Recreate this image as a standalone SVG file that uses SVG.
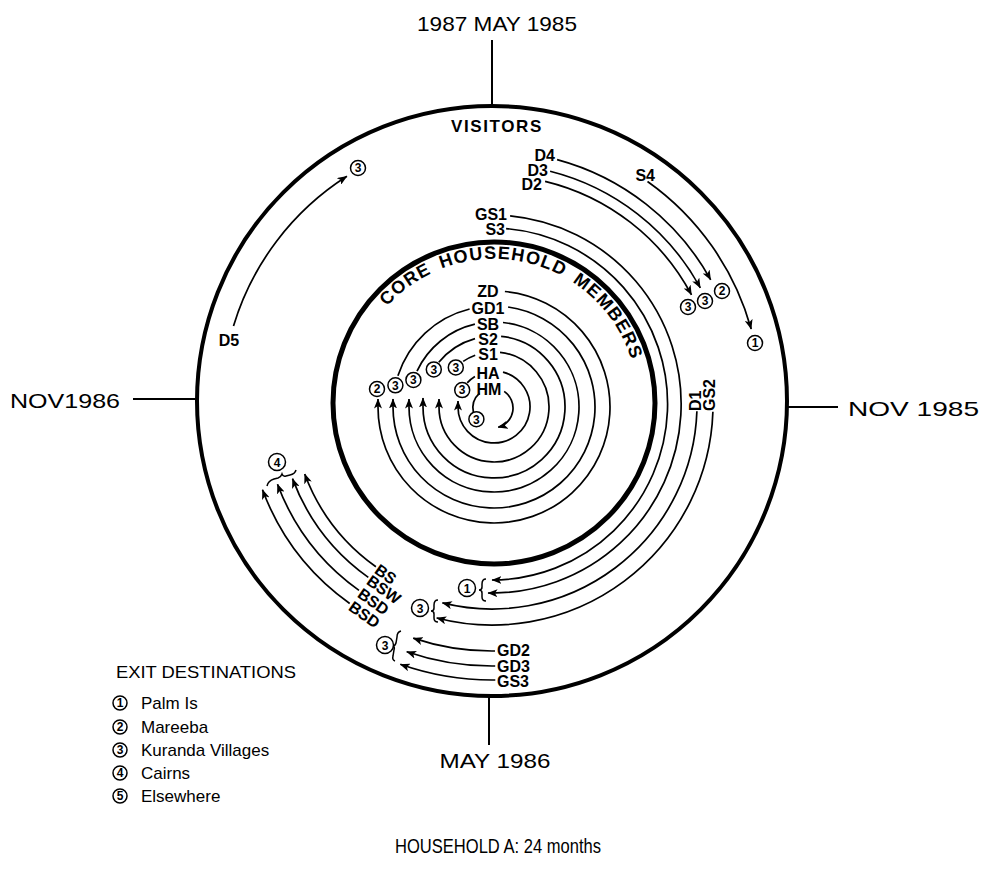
<svg xmlns="http://www.w3.org/2000/svg" width="984" height="890" viewBox="0 0 984 890">
<style>
text{font-family:"Liberation Sans",Arial,Helvetica,sans-serif;fill:#000}
.lb{font-weight:bold;font-size:16px}
.big{font-size:21px}
.leg{font-size:17px}
.cd circle{fill:#fff;stroke:#000;stroke-width:1.5}
.cd text{font-size:12px;text-anchor:middle;font-weight:bold}
.arc{fill:none;stroke:#000;stroke-width:1.7}
.ar{marker-end:url(#ah)}
.rim{fill:none;stroke:#000}
.br{fill:none;stroke:#000;stroke-width:1.5}
</style>
<defs>
<marker id="ah" viewBox="0 0 10 8" refX="9.5" refY="4" markerWidth="10" markerHeight="8" markerUnits="userSpaceOnUse" orient="auto"><path d="M0,0 L10,4 L0,8 L2.5,4 z" fill="#000"/></marker>
</defs>
<rect width="984" height="890" fill="#fff"/>

<g id="frame">
<circle class="rim" cx="492" cy="401" r="295" stroke-width="4"/>
<circle class="rim" cx="494" cy="403" r="161" stroke-width="5"/>
<path class="rim" stroke-width="2" d="M492 40 L492 105 M133 399 L197 399 M787 407 L838 407 M489 695 L489 745"/>
</g>

<g id="time-labels">
<text class="big" x="497" y="31" text-anchor="middle" textLength="160" lengthAdjust="spacingAndGlyphs">1987 MAY 1985</text>
<text class="big" x="10" y="408" textLength="110" lengthAdjust="spacingAndGlyphs">NOV1986</text>
<text class="big" x="848" y="416" textLength="131" lengthAdjust="spacingAndGlyphs">NOV 1985</text>
<text class="big" x="495" y="768" text-anchor="middle" textLength="111" lengthAdjust="spacingAndGlyphs">MAY 1986</text>
<text x="498" y="853" font-size="20" text-anchor="middle" textLength="206" lengthAdjust="spacingAndGlyphs">HOUSEHOLD A: 24 months</text>
</g>

<g id="ring-titles">
<text x="497" y="132" text-anchor="middle" font-weight="bold" font-size="17" letter-spacing="1.6">VISITORS</text>
<path id="corePath" d="M387 306.6 A144 144 0 0 1 637.5 390.4" fill="none"/>
<text font-weight="bold" font-size="18" letter-spacing="1.2" word-spacing="4"><textPath href="#corePath">CORE HOUSEHOLD MEMBERS</textPath></text>
</g>

<g id="connectors">
<path class="arc ar" d="M504.9 291.5 A116 116 0 1 1 378 407 L378 399"/>
<path class="arc ar" d="M508.1 307 A101 101 0 1 1 393 407 L393 399"/>
<path class="arc" d="M397.9 375.8 A101 101 0 0 1 469.6 309"/>
<path class="arc ar" d="M503 322.5 A85 85 0 1 1 409 407 L409 399"/>
<path class="arc" d="M417 371.1 A85 85 0 0 1 474.9 324.2"/>
<path class="arc ar" d="M501.1 336.3 A71 71 0 1 1 423 407 L423 398"/>
<path class="arc" d="M438.8 362.3 A71 71 0 0 1 475 338.6"/>
<path class="arc ar" d="M500 352.3 A55 55 0 1 1 439 407 L439 399"/>
<path class="arc" d="M463.2 361.4 A55 55 0 0 1 475.2 355.3"/>
<path class="arc ar" d="M503 372.1 A36 36 0 1 1 458 407 L458 401"/>
<path class="arc" d="M467.2 382.9 A36 36 0 0 1 474.9 376.5"/>
<path class="arc ar" d="M504.2 391.4 A20 20 0 0 1 498.2 427.3"/>
<path class="arc" d="M473.4 412.2 A20 20 0 0 1 479.6 393.1"/>
<path class="arc ar" d="M557.1 159.6 A250 250 0 0 1 710.7 279.8"/>
<path class="arc ar" d="M550.1 171.2 A237 237 0 0 1 700.3 287.9"/>
<path class="arc ar" d="M545.1 181.3 A226 226 0 0 1 691.5 294.9"/>
<path class="arc ar" d="M647.5 181.5 A269 269 0 0 1 751.2 329.1"/>
<path class="arc ar" d="M506.1 228.6 A176 176 0 0 1 492 580"/>
<path class="arc ar" d="M510.1 215.9 A189 189 0 0 1 488 593"/>
<path class="arc ar" d="M696.9 411.2 A205 205 0 0 1 442.4 602.9"/>
<path class="arc ar" d="M712.9 411.7 A221 221 0 0 1 436.7 618"/>
<path class="arc ar" d="M495 651 A247 247 0 0 1 413.2 638.1"/>
<path class="arc ar" d="M495.2 666 A262 262 0 0 1 406.7 651.7"/>
<path class="arc ar" d="M495.3 680 A276 276 0 0 1 400.3 664.3"/>
<path class="arc ar" d="M375.9 566.8 A200 200 0 0 1 304.7 474"/>
<path class="arc ar" d="M368.3 577.4 A213 213 0 0 1 292.5 478.6"/>
<path class="arc ar" d="M359 590.4 A229 229 0 0 1 277.5 484.2"/>
<path class="arc ar" d="M349.7 603.5 A245 245 0 0 1 262.5 489.8"/>
<path class="arc ar" d="M233.5 326 A270 270 0 0 1 346.9 176.3"/>
<path class="br" d="M486 579 Q482 579 482 584 L482 587 Q482 590 479 590 Q482 590 482 593 L482 597 Q482 601 486 601"/>
<path class="br" d="M438 600 Q434 600 434 605 L434 608 Q434 611 431 611 Q434 611 434 614 L434 618 Q434 622 438 622"/>
<path class="br" d="M401 631 Q397 632 397 637 L396 643 Q395 646 393 646 Q395 647 394 650 L393 656 Q392 660 395 661"/>
<path class="br" d="M267 486 Q268 481 274 479 L278 478 Q281 477 282 474 Q283 477 286 476 L290 475 Q295 474 296 470"/>
</g>

<g id="members">
<g id="m-ZD"><text class="lb" x="488" y="297" text-anchor="middle">ZD</text></g>
<g id="m-GD1"><text class="lb" x="488" y="314" text-anchor="middle">GD1</text></g>
<g id="m-SB"><text class="lb" x="488" y="330" text-anchor="middle">SB</text></g>
<g id="m-S2"><text class="lb" x="488" y="345" text-anchor="middle">S2</text></g>
<g id="m-S1"><text class="lb" x="488" y="360" text-anchor="middle">S1</text></g>
<g id="m-HA"><text class="lb" x="488" y="379" text-anchor="middle">HA</text></g>
<g id="m-HM"><text class="lb" x="489" y="395" text-anchor="middle">HM</text></g>
</g>

<g id="visitors">
<g id="v-D4"><text class="lb" x="555" y="161" text-anchor="end">D4</text></g>
<g id="v-D3"><text class="lb" x="548" y="176" text-anchor="end">D3</text></g>
<g id="v-D2"><text class="lb" x="542" y="190" text-anchor="end">D2</text></g>
<g id="v-S4"><text class="lb" x="655" y="181" text-anchor="end">S4</text></g>
<g id="v-GS1"><text class="lb" x="507" y="220" text-anchor="end">GS1</text></g>
<g id="v-S3"><text class="lb" x="505" y="235" text-anchor="end">S3</text></g>
<g id="v-D1"><text class="lb" transform="translate(701,411) rotate(-90)">D1</text></g>
<g id="v-GS2"><text class="lb" transform="translate(715,411) rotate(-90)">GS2</text></g>
<g id="v-GD2"><text class="lb" x="497" y="656">GD2</text></g>
<g id="v-GD3"><text class="lb" x="497" y="672">GD3</text></g>
<g id="v-GS3"><text class="lb" x="497" y="687">GS3</text></g>
<g id="v-BS"><text class="lb" transform="translate(376,567) rotate(35)" x="1" y="6">BS</text></g>
<g id="v-BSW"><text class="lb" transform="translate(368,578) rotate(35)" x="1" y="6">BSW</text></g>
<g id="v-BSD1"><text class="lb" transform="translate(359,591) rotate(35)" x="1" y="6">BSD</text></g>
<g id="v-BSD2"><text class="lb" transform="translate(350,604) rotate(35)" x="1" y="6">BSD</text></g>
<g id="v-D5"><text class="lb" x="229" y="346" text-anchor="middle">D5</text></g>
</g>

<g id="destinations">
<g class="cd" id="d-zd"><circle cx="377" cy="389" r="7.5"/><text x="377" y="393.3">2</text></g>
<g class="cd" id="d-gd1"><circle cx="395.4" cy="385.3" r="7.5"/><text x="395.4" y="389.6">3</text></g>
<g class="cd" id="d-sb"><circle cx="413.4" cy="379.9" r="7.5"/><text x="413.4" y="384.2">3</text></g>
<g class="cd" id="d-s2"><circle cx="433.8" cy="369.4" r="7.5"/><text x="433.8" y="373.7">3</text></g>
<g class="cd" id="d-s1"><circle cx="455.8" cy="367.4" r="7.5"/><text x="455.8" y="371.7">3</text></g>
<g class="cd" id="d-ha"><circle cx="462.2" cy="390.1" r="7.5"/><text x="462.2" y="394.4">3</text></g>
<g class="cd" id="d-hm"><circle cx="476.4" cy="419.2" r="7.5"/><text x="476.4" y="423.5">3</text></g>
<g class="cd" id="d-d2"><circle cx="688" cy="307" r="7.5"/><text x="688" y="311.3">3</text></g>
<g class="cd" id="d-d3"><circle cx="705" cy="301" r="7.5"/><text x="705" y="305.3">3</text></g>
<g class="cd" id="d-d4"><circle cx="722" cy="291" r="7.5"/><text x="722" y="295.3">2</text></g>
<g class="cd" id="d-s4"><circle cx="755" cy="343" r="7.5"/><text x="755" y="347.3">1</text></g>
<g class="cd" id="d-d5"><circle cx="358" cy="168" r="7.5"/><text x="358" y="172.3">3</text></g>
<g class="cd" id="d-b1"><circle cx="467" cy="588" r="8.5"/><text x="467" y="592.5">1</text></g>
<g class="cd" id="d-b2"><circle cx="420" cy="608" r="8.5"/><text x="420" y="612.5">3</text></g>
<g class="cd" id="d-b3"><circle cx="385" cy="645" r="8.5"/><text x="385" y="649.5">3</text></g>
<g class="cd" id="d-b4"><circle cx="277" cy="462" r="8.5"/><text x="277" y="466.5">4</text></g>
</g>

<g id="legend">
<text class="leg" x="116" y="678" textLength="180" lengthAdjust="spacingAndGlyphs">EXIT DESTINATIONS</text>
<g class="cd"><circle cx="120" cy="703" r="7"/><text x="120" y="707.3">1</text></g>
<text class="leg" x="141" y="709">Palm Is</text>
<g class="cd"><circle cx="120" cy="727" r="7"/><text x="120" y="731.3">2</text></g>
<text class="leg" x="141" y="733">Mareeba</text>
<g class="cd"><circle cx="120" cy="750" r="7"/><text x="120" y="754.3">3</text></g>
<text class="leg" x="141" y="756">Kuranda Villages</text>
<g class="cd"><circle cx="120" cy="773" r="7"/><text x="120" y="777.3">4</text></g>
<text class="leg" x="141" y="779">Cairns</text>
<g class="cd"><circle cx="120" cy="796" r="7"/><text x="120" y="800.3">5</text></g>
<text class="leg" x="141" y="802">Elsewhere</text>
</g>
</svg>
